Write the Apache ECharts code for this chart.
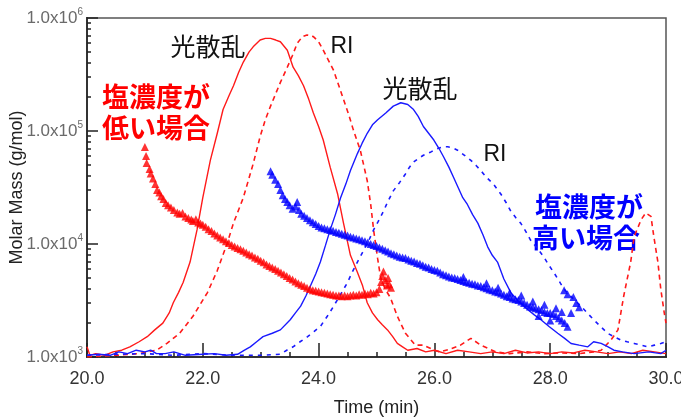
<!DOCTYPE html>
<html><head><meta charset="utf-8">
<script src="https://cdn.jsdelivr.net/npm/echarts@6/dist/echarts.min.js"></script>
<style>html,body{margin:0;padding:0;background:#fff}#c{width:681px;height:418px}</style>
</head><body><div id="c"></div>
<script>
// Molar mass (g/mol) vs time (min) — low salt (red) and high salt (blue)
const massLow = [[21.00,72000],[21.02,60000],[21.03,52000],[21.08,46000],[21.10,42000],[21.14,38000],[21.18,34000],[21.21,30000],[21.25,28500],[21.28,26500],[21.32,25000],[21.36,23000],[21.40,22000],[21.45,21000],[21.50,20000],[21.56,19000],[21.60,18500],[21.65,18800],[21.70,17500],[21.75,17000],[21.80,16500],[21.83,16000],[21.88,16600],[21.92,15500],[21.96,15200],[22.00,14800],[22.05,14200],[22.10,13500],[22.15,13000],[22.20,12400],[22.25,11900],[22.30,11400],[22.35,11000],[22.40,10600],[22.45,10200],[22.50,9800],[22.55,9500],[22.60,9200],[22.65,9000],[22.70,8700],[22.75,8400],[22.80,8100],[22.85,7900],[22.90,7600],[22.95,7400],[23.00,7100],[23.05,6900],[23.10,6600],[23.15,6400],[23.20,6200],[23.25,6000],[23.30,5800],[23.35,5600],[23.40,5400],[23.45,5200],[23.50,5000],[23.55,4850],[23.60,4650],[23.65,4500],[23.70,4350],[23.75,4250],[23.80,4100],[23.85,4000],[23.90,3900],[23.95,3850],[24.00,3800],[24.05,3750],[24.10,3700],[24.15,3650],[24.20,3600],[24.25,3550],[24.30,3500],[24.35,3500],[24.40,3450],[24.45,3500],[24.50,3450],[24.55,3500],[24.60,3550],[24.65,3500],[24.70,3600],[24.75,3550],[24.80,3650],[24.85,3600],[24.90,3700],[24.95,3650],[25.00,3750],[25.05,4000],[25.08,4600],[25.10,5200],[25.12,5700],[25.15,4800],[25.18,4300],[25.20,5000],[25.22,4400],[25.25,4100]];
const massHigh = [[23.17,44000],[23.20,41000],[23.25,37000],[23.30,34000],[23.34,30000],[23.38,27000],[23.42,25000],[23.46,23500],[23.50,22000],[23.55,20500],[23.60,21500],[23.63,23500],[23.66,20000],[23.70,18500],[23.75,17800],[23.80,17000],[23.85,16200],[23.90,15600],[23.95,15000],[24.00,14400],[24.05,14000],[24.10,13800],[24.15,13500],[24.20,13300],[24.25,13100],[24.30,12800],[24.35,12600],[24.40,12300],[24.45,12100],[24.50,11900],[24.55,11600],[24.60,11400],[24.65,11200],[24.70,11000],[24.75,10800],[24.80,10600],[24.85,10300],[24.90,10000],[24.95,9800],[25.00,9600],[25.05,9300],[25.10,9100],[25.15,8800],[25.20,8600],[25.25,8300],[25.30,8100],[25.35,7900],[25.40,7700],[25.45,7600],[25.50,7500],[25.55,7300],[25.60,7100],[25.65,7000],[25.70,6800],[25.75,6700],[25.80,6500],[25.85,6300],[25.90,6200],[25.95,6000],[26.00,5900],[26.05,5800],[26.10,5600],[26.15,5400],[26.20,5300],[26.25,5150],[26.30,5050],[26.35,5000],[26.40,4900],[26.45,4800],[26.50,4700],[26.55,4600],[26.60,4550],[26.65,4450],[26.70,4400],[26.75,4300],[26.80,4250],[26.85,4150],[26.90,4050],[26.95,3950],[27.00,3900],[27.05,3800],[27.10,3750],[27.15,3650],[27.20,3550],[27.25,3450],[27.30,3400],[27.35,3300],[27.40,3250],[27.45,3200],[27.50,3100],[27.55,3000],[27.60,2900],[27.65,2800],[27.70,2750],[27.75,2700],[27.80,2650],[27.85,2600],[27.90,2500],[27.95,2450],[28.00,2450],[28.05,2400],[28.10,2300],[28.15,2200],[28.20,2100],[28.25,2000],[28.30,1850],[26.50,5100],[26.90,4500],[27.10,4100],[27.30,3700],[27.50,3500],[27.70,3100],[27.90,2900],[27.80,2300],[28.00,2100],[28.10,2700],[28.24,3900],[28.30,3600],[28.40,3400],[28.45,3000],[28.50,2750],[28.36,2450],[28.20,2500]];
// Detector signals (relative units) — light scattering (光散乱) and RI
const lsLow = [[20.0,0.03],[20.05,0.005],[20.15,0.01],[20.3,0.005],[20.45,0.015],[20.6,0.02],[20.74,0.03],[20.9,0.045],[21.04,0.06],[21.17,0.08],[21.31,0.10],[21.42,0.13],[21.49,0.16],[21.58,0.19],[21.66,0.22],[21.78,0.28],[21.9,0.375],[22.0,0.47],[22.13,0.58],[22.25,0.66],[22.35,0.73],[22.45,0.77],[22.53,0.80],[22.62,0.84],[22.7,0.87],[22.8,0.90],[22.87,0.915],[22.99,0.935],[23.08,0.94],[23.17,0.94],[23.26,0.935],[23.34,0.93],[23.46,0.905],[23.56,0.855],[23.65,0.83],[23.74,0.80],[23.83,0.76],[23.91,0.72],[24.0,0.68],[24.08,0.64],[24.2,0.56],[24.33,0.48],[24.43,0.395],[24.55,0.30],[24.67,0.25],[24.76,0.21],[24.84,0.16],[24.93,0.13],[25.02,0.11],[25.1,0.095],[25.19,0.08],[25.28,0.06],[25.36,0.04],[25.45,0.03],[25.54,0.02],[25.7,0.025],[25.85,0.015],[26.0,0.02],[26.2,0.01],[26.4,0.02],[26.6,0.015],[26.8,0.01],[27.0,0.015],[27.2,0.01],[27.4,0.02],[27.6,0.012],[27.8,0.015],[28.0,0.01],[28.2,0.015],[28.4,0.012],[28.6,0.02],[28.8,0.015],[29.0,0.01],[29.2,0.015],[29.4,0.01],[29.6,0.02],[29.8,0.015],[30.0,0.01]];
const riLow = [[20.0,0.0],[20.5,0.005],[20.9,0.01],[21.2,0.02],[21.38,0.04],[21.6,0.07],[21.83,0.12],[22.08,0.19],[22.25,0.255],[22.42,0.335],[22.53,0.395],[22.7,0.47],[22.87,0.57],[22.99,0.65],[23.08,0.70],[23.17,0.74],[23.34,0.81],[23.46,0.855],[23.55,0.89],[23.63,0.925],[23.72,0.945],[23.8,0.95],[23.91,0.945],[24.0,0.93],[24.08,0.905],[24.17,0.875],[24.26,0.845],[24.35,0.80],[24.43,0.76],[24.52,0.715],[24.6,0.67],[24.72,0.61],[24.84,0.52],[24.9,0.45],[24.95,0.375],[25.02,0.29],[25.07,0.235],[25.15,0.20],[25.24,0.175],[25.36,0.12],[25.5,0.07],[25.67,0.035],[25.81,0.035],[26.0,0.02],[26.1,0.015],[26.3,0.025],[26.45,0.035],[26.63,0.055],[26.8,0.035],[27.06,0.015],[27.3,0.01],[27.6,0.015],[27.9,0.01],[28.2,0.012],[28.5,0.01],[28.75,0.015],[28.88,0.02],[29.05,0.05],[29.17,0.08],[29.27,0.18],[29.39,0.28],[29.45,0.355],[29.57,0.405],[29.65,0.425],[29.74,0.415],[29.79,0.355],[29.86,0.28],[29.91,0.2],[29.97,0.13],[30.0,0.1]];
const lsHigh = [[20.0,0.005],[20.2,0.008],[20.4,0.005],[20.55,0.015],[20.7,0.01],[20.85,0.02],[21.0,0.015],[21.1,0.02],[21.2,0.01],[21.35,0.01],[21.5,0.015],[21.7,0.005],[22.0,0.008],[22.2,0.01],[22.4,0.005],[22.6,0.008],[22.72,0.02],[22.82,0.03],[22.93,0.045],[23.04,0.06],[23.2,0.07],[23.34,0.08],[23.51,0.11],[23.6,0.13],[23.69,0.15],[23.78,0.18],[23.86,0.21],[23.95,0.245],[24.03,0.28],[24.12,0.33],[24.2,0.375],[24.29,0.42],[24.38,0.47],[24.47,0.51],[24.55,0.55],[24.67,0.60],[24.75,0.63],[24.84,0.66],[24.93,0.685],[25.02,0.70],[25.16,0.72],[25.29,0.74],[25.42,0.75],[25.54,0.745],[25.64,0.73],[25.72,0.71],[25.81,0.68],[25.9,0.66],[25.99,0.64],[26.08,0.615],[26.16,0.59],[26.25,0.56],[26.33,0.53],[26.41,0.50],[26.49,0.47],[26.57,0.45],[26.66,0.42],[26.75,0.395],[26.84,0.36],[26.92,0.325],[27.0,0.30],[27.09,0.28],[27.2,0.23],[27.32,0.19],[27.45,0.165],[27.61,0.14],[27.72,0.125],[27.84,0.11],[27.98,0.09],[28.13,0.07],[28.25,0.055],[28.36,0.04],[28.5,0.035],[28.65,0.03],[28.75,0.045],[28.88,0.04],[29.0,0.03],[29.1,0.02],[29.25,0.015],[29.45,0.01],[29.7,0.015],[29.91,0.01],[30.0,0.02]];
const riHigh = [[20.0,0.005],[20.5,0.008],[21.0,0.01],[21.5,0.005],[22.0,0.01],[22.5,0.005],[23.0,0.005],[23.34,0.008],[23.45,0.02],[23.56,0.03],[23.68,0.045],[23.81,0.06],[23.92,0.075],[24.03,0.09],[24.15,0.12],[24.26,0.15],[24.38,0.185],[24.5,0.22],[24.58,0.25],[24.67,0.28],[24.78,0.315],[24.87,0.345],[24.95,0.375],[25.03,0.40],[25.12,0.43],[25.2,0.46],[25.29,0.49],[25.4,0.515],[25.5,0.54],[25.57,0.56],[25.64,0.575],[25.72,0.585],[25.81,0.595],[25.94,0.605],[26.06,0.615],[26.15,0.62],[26.23,0.62],[26.32,0.617],[26.4,0.61],[26.52,0.595],[26.63,0.58],[26.72,0.565],[26.8,0.55],[26.9,0.53],[27.02,0.51],[27.15,0.48],[27.24,0.455],[27.32,0.43],[27.41,0.41],[27.49,0.395],[27.58,0.37],[27.66,0.345],[27.78,0.32],[27.89,0.295],[27.98,0.27],[28.06,0.25],[28.15,0.225],[28.24,0.2],[28.38,0.175],[28.53,0.15],[28.64,0.13],[28.75,0.11],[28.87,0.09],[28.99,0.07],[29.1,0.06],[29.22,0.05],[29.33,0.045],[29.45,0.04],[29.57,0.035],[29.69,0.03],[29.8,0.035],[29.91,0.04],[30.0,0.045]];
// Axis ticks
const xMin = 20, xMax = 30, xStep = 2, xMinorStep = 0.5;
const yDecades = [3, 4, 5, 6]; // log10 of 1.0x10^3 ... 1.0x10^6
const minorMultipliers = [2,3,4,5,6,7,8,9];
const minorLogTicks = [];
for (const d of [3,4,5]) for (const m of minorMultipliers) minorLogTicks.push(Math.log10(m) + d);
const toLog = arr => arr.map(p => [p[0], Math.log10(p[1])]);

const chart = echarts.init(document.getElementById('c'), null, {renderer: 'canvas'});
const font = '"Liberation Sans", Arial, sans-serif';
const axisColor = '#333';
chart.setOption({
  animation: false,
  backgroundColor: '#fff',
  grid: {left: 87, right: 15, top: 18, bottom: 61, containLabel: false, outerBoundsMode: 'none',
         show: true, borderColor: '#555', borderWidth: 1.5},
  xAxis: [{
    type: 'value', min: xMin, max: xMax, interval: xStep, position: 'bottom',
    name: 'Time (min)', nameLocation: 'middle', nameGap: 42, nameMoveOverlap: false,
    nameTextStyle: {fontSize: 18, color: '#222', fontFamily: font},
    axisLine: {lineStyle: {color: axisColor, width: 2}},
    axisTick: {inside: true, length: 14, lineStyle: {color: '#222', width: 1.5}},
    splitLine: {show: false},
    axisLabel: {fontSize: 18, color: '#333', margin: 13, fontFamily: font, formatter: v => v.toFixed(1)}
  }, {
    type: 'value', min: xMin, max: xMax, interval: xMinorStep, position: 'bottom', offset: 0,
    axisLine: {show: true, lineStyle: {color: axisColor, width: 2}},
    axisLabel: {show: false}, splitLine: {show: false},
    axisTick: {show: true, inside: true, length: 5, lineStyle: {color: '#222', width: 1.5}}
  }],
  yAxis: [{
    type: 'value', min: 3, max: 6, interval: 1, position: 'left',
    name: 'Molar Mass (g/mol)', nameLocation: 'middle', nameGap: 61, nameMoveOverlap: false,
    nameTextStyle: {fontSize: 18, color: '#222', fontFamily: font},
    axisLine: {show: true, lineStyle: {color: axisColor, width: 2}},
    axisTick: {show: true, inside: true, length: 11, lineStyle: {color: '#222', width: 1.5}},
    splitLine: {show: false},
    axisLabel: {margin: 4, formatter: v => '{a|1.0x10}{s|' + v + '}',
      rich: {a: {fontSize: 17, color: '#6a6a6a', fontFamily: font},
             s: {fontSize: 10, color: '#6a6a6a', fontFamily: font, padding: [0, 0, 12, 0]}}}
  }, {
    type: 'value', min: 3, max: 6, position: 'left', offset: 0,
    axisLine: {show: true, lineStyle: {color: axisColor, width: 2}},
    axisLabel: {show: false}, splitLine: {show: false},
    axisTick: {show: true, inside: true, length: 4, customValues: minorLogTicks, lineStyle: {color: '#222', width: 1.5}}
  }, {
    type: 'value', min: 0, max: 1, show: false
  }],
  series: [
    {type: 'line', yAxisIndex: 2, data: lsLow, showSymbol: false, lineStyle: {color: '#ff1a1a', width: 1.4}, z: 2},
    {type: 'line', yAxisIndex: 2, data: riLow, showSymbol: false, lineStyle: {color: '#ff1a1a', width: 1.6, type: [5, 4]}, z: 2},
    {type: 'line', yAxisIndex: 2, data: lsHigh, showSymbol: false, lineStyle: {color: '#1a1aff', width: 1.4}, z: 2},
    {type: 'line', yAxisIndex: 2, data: riHigh, showSymbol: false, lineStyle: {color: '#1a1aff', width: 1.6, type: [4, 5]}, z: 2},
    {type: 'scatter', yAxisIndex: 0, data: toLog(massLow), symbol: 'triangle', symbolSize: 8, itemStyle: {color: '#ff0000'}, z: 3},
    {type: 'scatter', yAxisIndex: 0, data: toLog(massHigh), symbol: 'triangle', symbolSize: 8, itemStyle: {color: '#0000ff'}, z: 3}
  ],
  graphic: [
    {type: 'text', x: 208, y: 46, style: {text: '光散乱', fill: '#111', font: '25px "Noto Sans CJK JP"', textAlign: 'center', textVerticalAlign: 'middle'}},
    {type: 'text', x: 342, y: 47, style: {text: 'RI', fill: '#111', font: '23px "Liberation Sans"', textAlign: 'center', textVerticalAlign: 'middle'}},
    {type: 'text', x: 420, y: 88, style: {text: '光散乱', fill: '#111', font: '25px "Noto Sans CJK JP"', textAlign: 'center', textVerticalAlign: 'middle'}},
    {type: 'text', x: 495, y: 155, style: {text: 'RI', fill: '#111', font: '23px "Liberation Sans"', textAlign: 'center', textVerticalAlign: 'middle'}},
    {type: 'text', x: 156, y: 97, style: {text: '塩濃度が', fill: '#ff0000', font: 'bold 27px "Noto Sans CJK JP"', textAlign: 'center', textVerticalAlign: 'middle'}},
    {type: 'text', x: 156, y: 128, style: {text: '低い場合', fill: '#ff0000', font: 'bold 27px "Noto Sans CJK JP"', textAlign: 'center', textVerticalAlign: 'middle'}},
    {type: 'text', x: 589, y: 207, style: {text: '塩濃度が', fill: '#0000ff', font: 'bold 27px "Noto Sans CJK JP"', textAlign: 'center', textVerticalAlign: 'middle'}},
    {type: 'text', x: 586, y: 238, style: {text: '高い場合', fill: '#0000ff', font: 'bold 27px "Noto Sans CJK JP"', textAlign: 'center', textVerticalAlign: 'middle'}}
  ]
});
</script></body></html>
